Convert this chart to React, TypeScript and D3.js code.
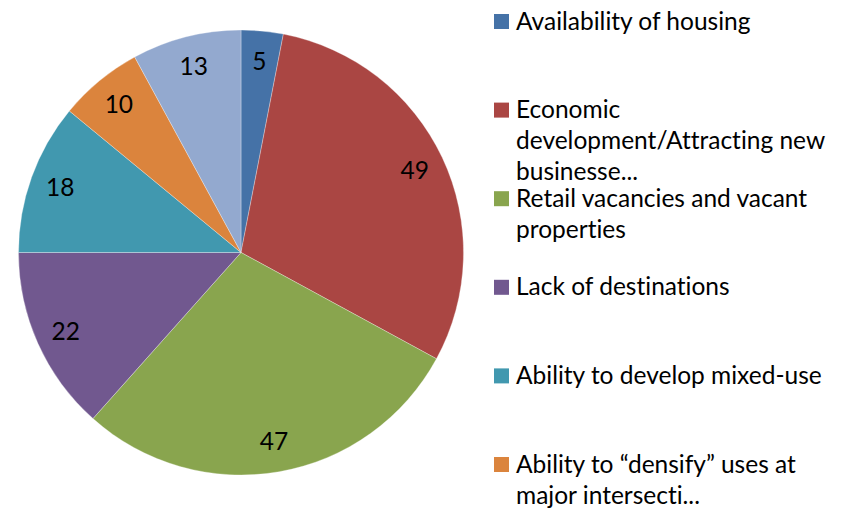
import React from "react";
import * as d3 from "d3";

const categories = [
  "Availability of housing",
  "Economic development/Attracting new businesse...",
  "Retail vacancies and vacant properties",
  "Lack of destinations",
  "Ability to develop mixed-use",
  "Ability to “densify” uses at major intersecti...",
  "",
];
const values = [5, 49, 47, 22, 18, 10, 13];
const colors = ["#4572A7", "#AA4643", "#89A54E", "#71588F", "#4198AF", "#DB843D", "#93A9CF"];
const legendLines = [
  ["Availability of housing"],
  ["Economic", "development/Attracting new", "businesse..."],
  ["Retail vacancies and vacant", "properties"],
  ["Lack of destinations"],
  ["Ability to develop mixed-use"],
  ["Ability to “densify” uses at", "major intersecti..."],
];

const W = 854;
const H = 510;
const cx = 241;
const cy = 252.5;
const R = 222.5;
const FONT = "Lato, 'Open Sans', sans-serif";
const FS = 24.5;
const textStyle = { fontVariantLigatures: "none" as const, fontFeatureSettings: "'liga' 0, 'clig' 0" };

export default function App() {
  const pie = d3.pie<number>().sort(null).value((d) => d);
  const arcs = pie(values);
  const arcGen = d3.arc<d3.PieArcDatum<number>>().innerRadius(0).outerRadius(R);
  const labelArc = d3.arc<d3.PieArcDatum<number>>().innerRadius(192).outerRadius(192);
  const legendY = d3.scaleLinear().domain([0, 5]).range([21.5, 464.5]);

  return (
    <svg width={W} height={H} style={{ position: "absolute", left: 0, top: 0 }}>
      <rect width={W} height={H} fill="#fff" />
      <g transform={`translate(${cx},${cy})`}>
        {arcs.map((a, i) => (
          <path key={i} d={arcGen(a) || ""} fill={colors[i]} stroke="#fff" strokeOpacity={0.5} strokeWidth={0.6} />
        ))}
        {arcs.map((a, i) => {
          const [x, y] = labelArc.centroid(a);
          return (
            <text key={i} x={x} y={y} dy="0.35em" textAnchor="middle" fontFamily={FONT} fontSize={FS} fill="#000" style={textStyle}>
              {values[i]}
            </text>
          );
        })}
      </g>
      <g>
        {legendLines.map((lines, i) => {
          const y = legendY(i);
          return (
            <g key={i}>
              <rect x={494} y={y - 7.5} width={15} height={15} fill={colors[i]} />
              {lines.map((ln, j) => (
                <text key={j} x={516} y={y + 8 + j * 31} fontFamily={FONT} fontSize={FS} fill="#000" style={textStyle}>
                  {ln}
                </text>
              ))}
            </g>
          );
        })}
      </g>
    </svg>
  );
}
